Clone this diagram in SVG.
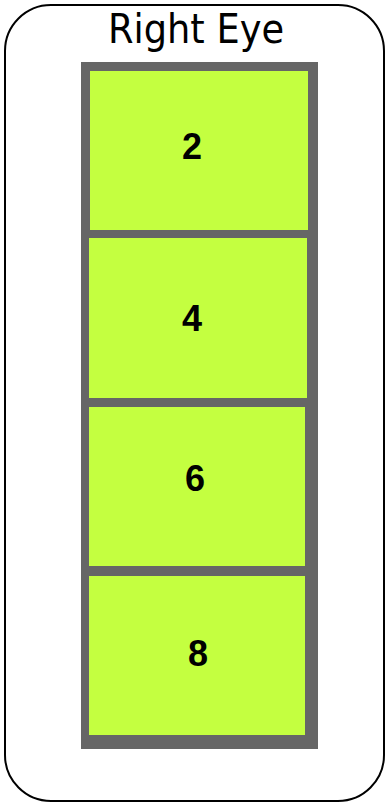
<svg xmlns="http://www.w3.org/2000/svg" width="388" height="803" viewBox="0 0 388 803">
<style>
.cell{fill:#c4ff40}
.num{font-family:"Liberation Sans",Arial,sans-serif;font-weight:bold;font-size:36px;fill:#000;text-anchor:middle}
</style>
<rect x="0" y="0" width="388" height="803" fill="#ffffff"/>
<g id="container">
<rect x="5" y="5" width="379" height="796" rx="46" ry="46" fill="#ffffff" stroke="#000" stroke-width="2"/>
<text x="196" y="43" font-family="'DejaVu Sans',Verdana,sans-serif" font-size="40" textLength="176" lengthAdjust="spacingAndGlyphs" text-anchor="middle" fill="#000">Right Eye</text>
</g>
<g id="frame">
<rect x="81" y="62" width="237" height="687" fill="#666666"/>
</g>
<g id="cell2">
<rect class="cell" x="90" y="71" width="218" height="159"/>
<text class="num" x="192" y="159">2</text>
</g>
<g id="cell4">
<rect class="cell" x="89" y="238" width="218" height="160"/>
<text class="num" x="192" y="331">4</text>
</g>
<g id="cell6">
<rect class="cell" x="89" y="407" width="216" height="159"/>
<text class="num" x="195" y="491">6</text>
</g>
<g id="cell8">
<rect class="cell" x="89" y="576" width="216" height="159"/>
<text class="num" x="198" y="666">8</text>
</g>
<g id="connectors"></g>
</svg>
